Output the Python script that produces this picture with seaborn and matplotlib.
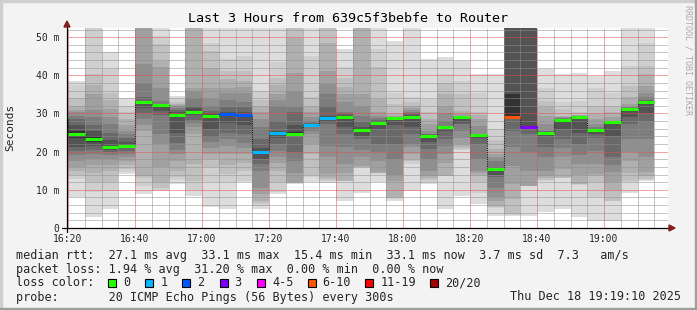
import matplotlib
matplotlib.use("Agg")
import numpy as np
import pandas as pd
import matplotlib.pyplot as plt
import seaborn as sns
from matplotlib.patches import Rectangle, Polygon
from matplotlib.lines import Line2D

W, H = 697, 310
nan = float("nan")

# ---------------- data ----------------
bar_times = ["16:15", "16:20", "16:25", "16:30", "16:35", "16:40", "16:45", "16:50", "16:55",
             "17:00", "17:05", "17:10", "17:15", "17:20", "17:25", "17:30", "17:35",
             "17:40", "17:45", "17:50", "17:55", "18:00", "18:05", "18:10", "18:15",
             "18:20", "18:25", "18:30", "18:35", "18:40", "18:45", "18:50", "18:55",
             "19:00", "19:05", "19:10"]

median_ms = [29.2, 24.6, 23.2, 21.2, 21.5, 33.0, 32.3, 29.7, 30.4, 29.3, 29.9, 29.7,
             19.9, 24.8, 24.6, 27.1, 28.8, 29.1, 25.7, 27.6, 28.9, 29.1, 24.2, 26.5,
             29.0, 24.3, 15.4, 29.2, 26.5, 24.9, 28.2, 29.0, 25.8, 27.7, 31.3, 33.1]

lost_pings = [0, 0, 0, 0, 0, 0, 0, 0, 0, 0, 2, 2, 1, 1, 0, 1, 1, 0, 0, 0, 0, 0, 0, 0,
              0, 0, 0, 7, 3, 0, 0, 0, 0, 0, 0, 0]

# sorted ping rtts (ms) of each 5-minute step, nan = lost ping
p_1615 = [12.0, 13.5, 15.0, 16.5, 18.0, 20.0, 22.0, 24.0, 26.5, 29.0, 29.4, 30.0, 31.0, 32.0, 33.0, 34.5, 36.0, 38.0, 40.0, 42.0]
p_1620 = [8.2, 12.8, 13.8, 15.0, 16.0, 17.5, 19.0, 20.2, 21.1, 23.5, 25.5, 27.0, 28.5, 29.4, 30.3, 31.0, 32.0, 34.0, 37.5, 38.4]
p_1625 = [2.8, 9.5, 12.0, 14.5, 16.5, 18.0, 19.5, 20.5, 21.5, 22.5, 24.0, 25.5, 27.0, 29.0, 31.0, 35.0, 37.5, 40.3, 55.0, 60.0]
p_1630 = [5.0, 9.8, 12.0, 15.0, 16.5, 18.0, 19.0, 19.8, 20.5, 21.0, 21.5, 23.0, 25.0, 27.2, 29.0, 31.2, 33.5, 35.5, 41.6, 46.0]
p_1635 = [14.1, 14.6, 15.5, 16.5, 17.6, 18.5, 19.5, 20.3, 20.9, 21.3, 21.7, 22.5, 23.5, 24.5, 25.5, 27.0, 28.5, 30.5, 32.0, 34.0]
p_1640 = [8.9, 11.0, 13.0, 13.7, 25.5, 27.0, 28.5, 30.0, 31.5, 32.8, 33.1, 33.3, 34.2, 38.1, 42.9, 55.0, 57.0, 59.0, 61.0, 63.0]
p_1645 = [9.8, 10.0, 10.6, 12.0, 15.9, 22.0, 24.6, 29.5, 30.7, 32.2, 32.4, 32.5, 32.6, 33.3, 36.8, 42.1, 43.8, 48.2, 50.3, 56.0]
p_1650 = [11.5, 12.5, 13.3, 15.0, 17.5, 19.4, 20.5, 22.4, 25.0, 29.5, 29.9, 30.5, 31.0, 31.5, 32.0, 32.3, 32.6, 33.0, 33.8, 34.6]
p_1655 = [8.5, 10.0, 12.4, 16.8, 24.6, 26.4, 27.5, 28.2, 29.5, 30.2, 30.6, 31.5, 32.0, 34.0, 35.8, 36.8, 55.0, 57.0, 59.0, 61.0]
p_1700 = [5.4, 12.0, 15.9, 18.0, 19.5, 21.0, 22.5, 23.8, 26.0, 29.0, 29.6, 30.0, 30.7, 32.0, 34.0, 36.8, 42.0, 46.4, 48.6, 55.0]
p_1705 = [5.0, 12.0, 14.1, 16.5, 19.4, 21.5, 23.3, 25.0, 27.5, 29.6, 30.2, 30.3, 31.6, 33.5, 35.5, 36.8, 39.0, 41.2, 44.2, 56.0]
p_1710 = [12.0, 12.3, 15.0, 17.0, 19.4, 21.0, 22.4, 24.5, 27.0, 29.5, 29.9, 30.3, 31.6, 33.0, 35.5, 37.0, 38.5, 41.2, 45.0, 56.0]
p_1715 = [5.0, 5.8, 6.5, 7.0, 8.9, 10.6, 15.0, 16.8, 18.0, 19.8, 20.0, 21.0, 23.3, 26.4, 28.5, 30.3, 32.0, 33.5, 36.0, 56.0]
p_1720 = [8.9, 9.5, 12.0, 15.0, 17.0, 18.5, 20.2, 22.0, 23.5, 24.6, 25.0, 25.5, 28.1, 32.0, 33.5, 35.1, 37.5, 39.4, 43.4, 56.0]
p_1725 = [11.5, 11.7, 11.8, 11.9, 12.0, 14.5, 17.5, 19.8, 24.0, 24.4, 25.2, 27.0, 30.3, 31.6, 36.0, 40.7, 49.9, 55.0, 58.0, 61.0]
p_1730 = [12.0, 13.3, 14.0, 19.4, 22.0, 24.6, 25.5, 26.4, 26.8, 27.0, 27.2, 27.3, 27.6, 28.1, 29.0, 30.3, 32.0, 34.2, 45.1, 56.0]
p_1735 = [11.8, 12.2, 12.6, 13.2, 14.1, 18.5, 21.6, 27.2, 27.8, 28.6, 29.0, 29.4, 32.0, 35.1, 37.7, 41.2, 48.6, 55.0, 58.0, 61.0]
p_1740 = [7.2, 12.2, 12.3, 12.4, 14.5, 16.8, 21.1, 24.6, 26.5, 28.9, 29.3, 29.6, 30.0, 30.3, 32.9, 35.1, 37.0, 39.4, 42.1, 46.9]
p_1745 = [9.3, 15.8, 15.9, 16.0, 16.2, 18.5, 20.5, 23.3, 24.0, 25.5, 25.9, 26.5, 27.7, 29.4, 32.0, 35.1, 55.0, 57.0, 59.0, 61.0]
p_1750 = [12.0, 14.2, 14.4, 14.5, 14.6, 17.6, 19.8, 22.0, 26.0, 27.3, 27.7, 28.0, 28.3, 28.8, 29.4, 30.3, 33.8, 42.1, 46.9, 56.0]
p_1755 = [7.2, 7.5, 7.8, 8.0, 12.4, 14.0, 18.0, 22.0, 27.0, 28.7, 28.9, 28.95, 29.0, 29.1, 29.2, 29.3, 29.8, 32.5, 35.5, 49.0]
p_1800 = [9.8, 16.8, 17.5, 18.0, 19.5, 21.1, 22.0, 24.6, 26.5, 29.0, 29.2, 29.5, 30.0, 30.5, 31.0, 31.5, 32.0, 33.0, 34.2, 56.0]
p_1805 = [11.5, 12.0, 12.5, 13.0, 13.7, 15.0, 18.0, 20.7, 22.5, 24.1, 24.3, 24.4, 24.5, 24.6, 25.5, 27.2, 28.5, 30.3, 33.8, 44.2]
p_1810 = [5.0, 13.5, 13.6, 13.7, 17.0, 19.4, 21.5, 23.3, 25.5, 26.4, 26.6, 26.7, 26.8, 28.1, 30.0, 32.0, 35.0, 38.1, 40.3, 44.7]
p_1815 = [8.5, 20.5, 20.8, 21.1, 22.0, 23.7, 25.5, 27.2, 27.5, 28.9, 29.1, 29.15, 29.2, 29.3, 29.4, 29.8, 30.7, 35.0, 38.6, 43.8]
p_1820 = [6.3, 9.3, 12.0, 13.5, 14.5, 15.0, 18.1, 22.0, 23.5, 24.2, 24.4, 24.45, 24.5, 24.6, 26.8, 28.5, 29.5, 30.3, 35.5, 40.3]
p_1825 = [3.2, 5.2, 5.5, 5.8, 7.0, 8.0, 10.5, 13.3, 14.0, 15.2, 15.4, 15.6, 15.9, 17.5, 18.5, 19.5, 20.7, 23.0, 25.9, 40.3]
p_1830 = [3.2, 3.5, 3.7, 7.6, 11.5, 16.3, 21.1, 25.5, 28.5, 29.0, 35.1, nan, nan, nan, nan, nan, nan, nan, nan, nan]
p_1835 = [3.2, 10.9, 11.0, 11.05, 11.1, 15.0, 20.0, 24.6, 26.0, 26.3, 26.8, nan, nan, nan, nan, nan, nan, nan, nan, nan]
p_1840 = [4.1, 12.4, 12.6, 13.0, 13.5, 15.0, 18.5, 21.1, 24.0, 24.8, 25.0, 25.1, 25.3, 25.5, 27.2, 29.4, 31.6, 33.3, 36.8, 41.6]
p_1845 = [5.0, 13.1, 13.2, 13.3, 15.5, 18.5, 21.0, 23.3, 26.0, 28.1, 28.3, 28.4, 28.6, 28.8, 29.0, 29.2, 29.4, 31.2, 32.9, 40.3]
p_1850 = [2.8, 11.3, 11.4, 11.5, 14.0, 16.8, 19.0, 22.0, 25.0, 28.9, 29.05, 29.1, 29.2, 29.3, 29.4, 29.5, 29.6, 30.3, 33.3, 40.7]
p_1855 = [1.9, 8.0, 12.0, 13.5, 14.1, 16.8, 20.2, 23.7, 24.5, 25.7, 25.9, 25.95, 26.0, 26.5, 27.2, 28.5, 29.8, 32.0, 36.8, 39.9]
p_1900 = [1.9, 7.0, 7.2, 10.0, 12.0, 14.6, 16.5, 18.5, 24.0, 27.6, 27.8, 27.85, 27.9, 28.0, 28.1, 29.0, 30.3, 32.0, 35.5, 41.2]
p_1905 = [9.3, 12.0, 12.4, 14.5, 17.6, 20.0, 23.3, 27.2, 29.0, 31.2, 31.4, 31.45, 31.5, 31.6, 31.7, 32.5, 34.2, 37.3, 42.5, 56.0]
p_1910 = [12.4, 12.5, 12.8, 13.5, 14.6, 18.5, 23.3, 28.1, 30.0, 32.9, 33.1, 33.3, 33.6, 34.2, 35.5, 37.3, 40.3, 42.5, 48.6, 56.0]

smoke_rows = [p_1615, p_1620, p_1625, p_1630, p_1635, p_1640, p_1645, p_1650, p_1655,
              p_1700, p_1705, p_1710, p_1715, p_1720, p_1725, p_1730, p_1735,
              p_1740, p_1745, p_1750, p_1755, p_1800, p_1805, p_1810, p_1815,
              p_1820, p_1825, p_1830, p_1835, p_1840, p_1845, p_1850, p_1855,
              p_1900, p_1905, p_1910]

x_tick_labels = ["16:20", "16:40", "17:00", "17:20", "17:40", "18:00", "18:20", "18:40", "19:00"]
y_tick_values = [0, 10, 20, 30, 40, 50]
y_tick_labels = ["0", "10 m", "20 m", "30 m", "40 m", "50 m"]

loss_classes = ["0", "1", "2", "3", "4-5", "6-10", "11-19", "20/20"]
loss_colors = ["#26ff00", "#00b8ff", "#0059ff", "#7e00ff", "#ff00ff", "#ff5500", "#ff0000", "#a10000"]

legend_rtt = "median rtt:  27.1 ms avg  33.1 ms max  15.4 ms min  33.1 ms now  3.7 ms sd  7.3   am/s"
legend_loss = "packet loss: 1.94 % avg  31.20 % max  0.00 % min  0.00 % now"
legend_probe = "probe:       20 ICMP Echo Pings (56 Bytes) every 300s"
legend_date = "Thu Dec 18 19:19:10 2025"

# ---------------- helpers ----------------
def to_min(t):
    h, m = t.split(":")
    return (int(h) - 16) * 60 + int(m)

def loss_color(n):
    if n <= 3:
        return loss_colors[n]
    if n <= 5:
        return loss_colors[4]
    if n <= 10:
        return loss_colors[5]
    if n <= 19:
        return loss_colors[6]
    return loss_colors[7]

def fx(x):
    return x / W

def fy(y):
    return 1 - y / H

STEP = 5.0
starts = np.array([to_min(t) for t in bar_times], dtype=float)
YTOP = 52.4
smoke = np.array(smoke_rows, dtype=float)

df = pd.DataFrame({"t": starts, "median": median_ms, "loss": lost_pings})

# ---------------- figure ----------------
sns.set_style("white")
MONO = "DejaVu Sans Mono"
plt.rcParams["font.family"] = [MONO, "DejaVu Sans"]

fig = plt.figure(figsize=(W / 100, H / 100), dpi=100, facecolor="#f3f3f3")

# frame shading
fig.patches.append(Rectangle((0, fy(2)), 1, 2 / H, transform=fig.transFigure, color="#cfcfcf", zorder=0))
fig.patches.append(Rectangle((0, 0), 2 / W, 1, transform=fig.transFigure, color="#cfcfcf", zorder=0))
fig.patches.append(Rectangle((0, 0), 1, 2 / H, transform=fig.transFigure, color="#9e9e9e", zorder=0))
fig.patches.append(Rectangle((fx(W - 2), 0), 2 / W, 1, transform=fig.transFigure, color="#9e9e9e", zorder=0))

AX_L, AX_R, AX_T, AX_B = 67, 668, 28, 228
ax = fig.add_axes([fx(AX_L), fy(AX_B), (AX_R - AX_L) / W, (AX_B - AX_T) / H])
ax.set_facecolor("white")

x_left = 20 - 1 / 3.35
x_right = x_left + (AX_R - AX_L) / 3.35

# smoke bands: outer (light) to inner (dark)
half = 10
for k in range(1, half + 1):
    lo = smoke[:, k - 1]
    hi = smoke[:, 20 - k]
    hi = np.where(np.isnan(hi), 80.0, hi)
    ok = ~np.isnan(lo)
    g = int(round(50 + 171 * ((half - k) / (half - 1)) ** 0.75))
    col = "#%02x%02x%02x" % (g, g, g)
    ax.bar(starts[ok], (hi - lo)[ok], bottom=lo[ok], width=STEP, align="edge",
           color=col, linewidth=0, antialiased=False, zorder=1)

# median step line (dotted connectors)
step_x = list(starts) + [starts[-1] + STEP]
step_y = list(median_ms) + [median_ms[-1]]
sns.lineplot(x=step_x, y=step_y, drawstyle="steps-post", color="#202020",
             linewidth=0.8, linestyle=(0, (1, 1)), ax=ax, zorder=3, sort=False, estimator=None)

# loss-coloured median segments
ax.hlines(df["median"], df["t"], df["t"] + STEP, colors=[loss_color(n) for n in df["loss"]],
          linewidth=2.2, zorder=4)

ax.set_xlim(x_left, x_right)
ax.set_ylim(0, YTOP)

ax.set_xticks([20 + 20 * i for i in range(len(x_tick_labels))])
ax.set_xticklabels(x_tick_labels)
ax.set_xticks(np.arange(20, 200, 5), minor=True)
ax.set_yticks(y_tick_values)
ax.set_yticklabels(y_tick_labels)
ax.set_yticks(np.arange(0, 52.4, 2), minor=True)
ax.tick_params(which="both", length=0)
ax.tick_params(axis="x", pad=4.5, labelsize=7)
ax.tick_params(axis="y", pad=5.5, labelsize=7)
for lab in ax.get_xticklabels() + ax.get_yticklabels():
    lab.set_family(MONO)

ax.set_axisbelow(False)
ax.grid(which="minor", color=(0.56, 0.56, 0.56, 0.5), linestyle=(0, (1, 1)), linewidth=0.72)
ax.grid(which="major", color=(0.87, 0.31, 0.31, 0.6), linestyle=(0, (1, 1)), linewidth=0.72)
for s in ax.spines.values():
    s.set_visible(False)
ax.set_xlabel("")
ax.set_ylabel("")

# axes lines and arrows (figure pixel coords)
fig.lines.append(Line2D([fx(62), fx(670)], [fy(AX_B), fy(AX_B)], transform=fig.transFigure,
                        color="black", linewidth=0.9, zorder=5))
fig.lines.append(Line2D([fx(AX_L), fx(AX_L)], [fy(AX_B + 4), fy(24)], transform=fig.transFigure,
                        color="black", linewidth=0.9, zorder=5))
fig.patches.append(Polygon([(fx(669), fy(225)), (fx(669), fy(231)), (fx(675), fy(228))],
                           closed=True, transform=fig.transFigure, color="#7f1f1f", zorder=6))
fig.patches.append(Polygon([(fx(64), fy(27)), (fx(70), fy(27)), (fx(67), fy(21))],
                           closed=True, transform=fig.transFigure, color="#7f1f1f", zorder=6))

# title, labels
fig.text(fx(348), fy(19), "Last 3 Hours from 639c5f3bebfe to Router", ha="center", va="center",
         fontsize=9.6, family=MONO, color="black")
fig.text(fx(10), fy(127), "Seconds", rotation=90, ha="center", va="center", fontsize=8, family=MONO)
fig.text(fx(688), fy(60), "RRDTOOL / TOBI OETIKER", rotation=270, ha="center", va="center",
         fontsize=6, family=MONO, color="#aaaaaa")

# legend block
LF = 8.5
rows_y = [258.5, 272.5, 286.5, 300.5]
def legend_text(x, y, s, ha="left"):
    fig.text(fx(x), fy(y), s, ha=ha, va="baseline", fontsize=LF, family=MONO)

legend_text(16.4, rows_y[0], legend_rtt)
legend_text(16.4, rows_y[1], legend_loss)
legend_text(16.4, rows_y[2], "loss color:")
box_x = [108, 145.3, 182.2, 219.6, 256.9, 307.6, 365.3, 430.2]
for bx, lab, c in zip(box_x, loss_classes, loss_colors):
    fig.patches.append(Rectangle((fx(bx), fy(rows_y[2] + 0.5)), 8 / W, 8 / H, transform=fig.transFigure,
                                 facecolor=c, edgecolor="black", linewidth=0.8, zorder=5))
    legend_text(bx + 15, rows_y[2], lab)
legend_text(16.4, rows_y[3], legend_probe)
legend_text(681, rows_y[3], legend_date, ha="right")

fig.savefig("out.png", dpi=100, facecolor=fig.get_facecolor())
